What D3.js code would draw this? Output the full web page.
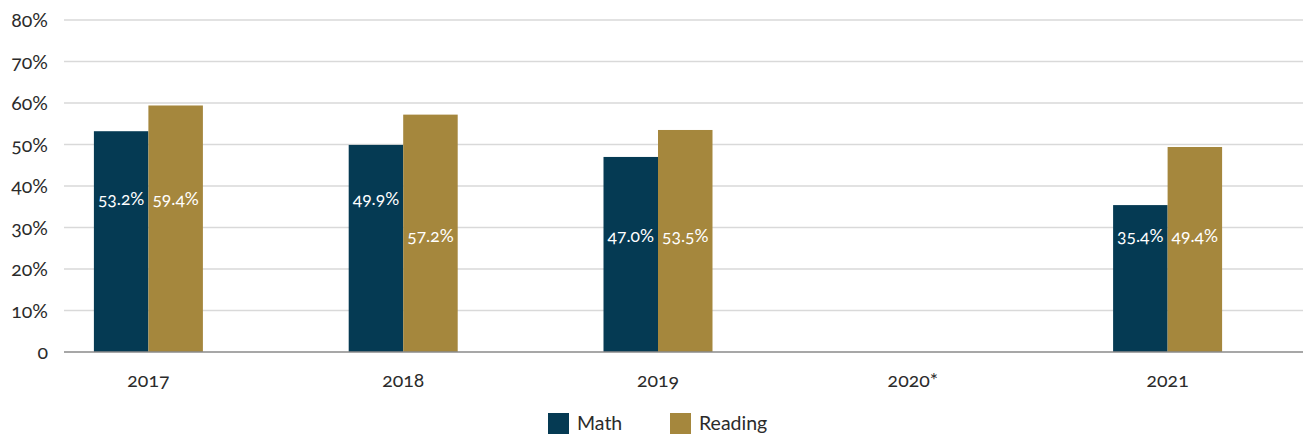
<!DOCTYPE html>
<html>
<head>
<meta charset="utf-8">
<script src="https://cdn.jsdelivr.net/npm/d3@7"></script>
<style>
  html, body { margin: 0; padding: 0; background: #fff; }
  svg { display: block; font-family: Lato, "Open Sans", sans-serif; font-variant-numeric: oldstyle-nums; }
</style>
</head>
<body>
<svg id="chart" width="1303" height="437"></svg>
<script>
// Proficiency rates by year
const years = ["2017", "2018", "2019", "2020*", "2021"];
const seriesNames = ["Math", "Reading"];
const mathValues = [53.2, 49.9, 47.0, null, 35.4];
const readingValues = [59.4, 57.2, 53.5, null, 49.4];
const yTicks = [0, 10, 20, 30, 40, 50, 60, 70, 80];

const colors = { Math: "#053a53", Reading: "#a5873d" };
// value level (in %) at which each in-bar label is centred
const labelLevel = {
  "2017": { Math: 37, Reading: 37 },
  "2018": { Math: 37, Reading: 28 },
  "2019": { Math: 28, Reading: 28 },
  "2021": { Math: 28, Reading: 28 }
};

const rows = years.map((y, i) => ({ year: y, Math: mathValues[i], Reading: readingValues[i] }));

const svg = d3.select("#chart");
const plotLeft = 64, plotRight = 1303;

const y = d3.scaleLinear().domain([0, 80]).range([352, 20]);
const x = d3.scaleBand().domain(years).range([21, 1295]);
const xs = d3.scaleBand().domain(seriesNames).range([0, 109]);
const groupOffset = (x.bandwidth() - xs.step() * 2) / 2;

// Gridlines
svg.append("g")
  .selectAll("line")
  .data(yTicks.filter(t => t > 0))
  .join("line")
  .attr("x1", plotLeft).attr("x2", plotRight)
  .attr("y1", d => y(d)).attr("y2", d => y(d))
  .attr("stroke", "#d9d9d9")
  .attr("stroke-width", 1.6);

// Y axis labels
const yAxis = d3.axisLeft(y)
  .tickValues(yTicks)
  .tickSize(0)
  .tickPadding(0)
  .tickFormat(d => d === 0 ? "0" : d + "%");
svg.append("g")
  .attr("transform", "translate(48,0)")
  .call(yAxis)
  .call(g => g.select(".domain").remove())
  .call(g => g.selectAll("text")
    .attr("font-size", 19.5)
    .attr("font-family", "Lato, 'Open Sans', sans-serif")
    .attr("fill", "#2b2b2b")
    .attr("dy", "0.35em"));

// Bars
const groups = svg.append("g")
  .selectAll("g")
  .data(rows)
  .join("g")
  .attr("transform", d => `translate(${x(d.year) + groupOffset},0)`);

groups.selectAll("rect")
  .data(d => seriesNames.filter(s => d[s] != null).map(s => ({ year: d.year, key: s, value: d[s] })))
  .join("rect")
  .attr("x", d => xs(d.key))
  .attr("width", xs.bandwidth())
  .attr("y", d => y(d.value))
  .attr("height", d => y(0) - y(d.value))
  .attr("fill", d => colors[d.key]);

groups.selectAll("text")
  .data(d => seriesNames.filter(s => d[s] != null).map(s => ({ year: d.year, key: s, value: d[s] })))
  .join("text")
  .attr("x", d => xs(d.key) + xs.bandwidth() / 2)
  .attr("y", d => y(labelLevel[d.year][d.key]))
  .attr("dy", "0.35em")
  .attr("text-anchor", "middle")
  .attr("fill", "#ffffff")
  .attr("font-size", 17.5)
  .text(d => d.value.toFixed(1) + "%");

// Baseline
svg.append("line")
  .attr("x1", plotLeft).attr("x2", plotRight)
  .attr("y1", y(0)).attr("y2", y(0))
  .attr("stroke", "#8a8a8a")
  .attr("stroke-width", 1.6);

// X axis labels
const xAxis = d3.axisBottom(x).tickSize(0).tickPadding(0);
svg.append("g")
  .attr("transform", "translate(0,380)")
  .call(xAxis)
  .call(g => g.select(".domain").remove())
  .call(g => g.selectAll("text")
    .attr("font-size", 19.5)
    .attr("font-family", "Lato, 'Open Sans', sans-serif")
    .attr("fill", "#2b2b2b")
    .attr("y", 0)
    .attr("dy", "0.35em"));

// Legend
const legendItems = [{ key: "Math", x: 548 }, { key: "Reading", x: 670 }];
const legend = svg.append("g")
  .selectAll("g")
  .data(legendItems)
  .join("g")
  .attr("transform", d => `translate(${d.x},413)`);
legend.append("rect")
  .attr("width", 21).attr("height", 21)
  .attr("fill", d => colors[d.key]);
legend.append("text")
  .attr("x", 29).attr("y", 10.5)
  .attr("dy", "0.35em")
  .attr("font-size", 19.5)
  .attr("fill", "#2b2b2b")
  .text(d => d.key);
</script>
</body>
</html>
